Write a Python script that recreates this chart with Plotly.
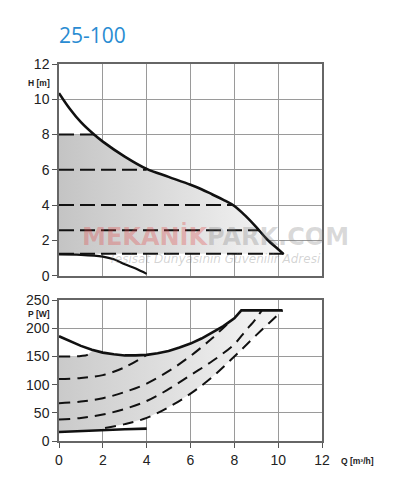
import plotly.graph_objects as go

# ---------------- H-Q (head) chart data ----------------
q_hmax = [0, 0.5, 1, 1.6, 2, 3, 4, 5, 6, 6.5, 7, 7.5, 8, 8.5, 9, 9.5, 10, 10.25]
h_max = [10.35, 9.45, 8.7, 8.0, 7.6, 6.75, 6.05, 5.6, 5.15, 4.9, 4.6, 4.3, 3.95, 3.4, 2.75, 2.05, 1.5, 1.22]
q_hmin = [0, 1, 2, 2.5, 3, 3.5, 4]
h_min = [1.2, 1.18, 1.08, 0.93, 0.65, 0.4, 0.1]
h_const = [8.0, 6.0, 4.0, 2.57, 1.24]
q_const_end = [1.6, 4.0, 7.96, 9.13, 10.25]

# ---------------- P-Q (power) chart data ----------------
q_pmax = [0, 0.5, 1, 1.5, 2, 2.5, 3, 3.5, 4, 4.5, 5, 5.5, 6, 6.5, 7, 7.5, 8, 8.32, 10.2]
p_max = [186, 177, 169, 162, 157, 154, 152, 152, 153, 156, 160, 166, 173, 182, 193, 204, 218, 232, 232]
q_p8 = [0, 1, 1.3, 1.55]
p_p8 = [150, 151, 153, 161]
q_p6 = [0, 1, 2, 3, 4]
p_p6 = [110, 112, 117, 131, 153]
q_p4 = [0, 1, 2, 3, 4, 5, 6, 7, 7.9]
p_p4 = [67, 70, 76, 87, 102, 124, 151, 183, 216]
q_p25 = [0, 1, 2, 3, 4, 5, 6, 7, 8, 8.5, 9, 9.25]
p_p25 = [38, 41, 47, 57, 71, 92, 117, 142, 172, 195, 218, 232]
q_p12 = [2.1, 3, 4, 5, 6, 7, 8, 9, 10.2]
p_p12 = [23, 30, 41, 60, 84, 114, 150, 188, 232]
q_pmin = [0, 1, 2, 3, 4]
p_pmin = [16, 18, 20, 21, 22]

x_ticks = [0, 2, 4, 6, 8, 10, 12]
h_ticks = [0, 2, 4, 6, 8, 10, 12]
p_ticks = [0, 50, 100, 150, 200, 250]

fig = go.Figure()

# ----- top chart fill -----
fx = [0.0] + [q for q in q_hmax if q >= q_const_end[0]] + [q_const_end[-1], 0.0]
fy = [h_const[0]] + [h for q, h in zip(q_hmax, h_max) if q >= q_const_end[0]] + [h_const[-1], h_const[-1]]
fig.add_trace(go.Scatter(x=fx, y=fy, fill="toself", mode="none",
                         fillgradient=dict(type="horizontal",
                                           colorscale=[[0, "#c4c4c4"], [1, "#f6f6f6"]]),
                         xaxis="x", yaxis="y", hoverinfo="skip", showlegend=False))

# constant pressure dashed lines
for h, qe in zip(h_const, q_const_end):
    fig.add_trace(go.Scatter(x=[0, qe], y=[h, h], mode="lines",
                             line=dict(color="#111", width=2, dash="15px,6px"),
                             xaxis="x", yaxis="y", showlegend=False))
fig.add_trace(go.Scatter(x=q_hmax, y=h_max, mode="lines", line=dict(color="#111", width=2.6, shape="spline"),
                         xaxis="x", yaxis="y", showlegend=False))
fig.add_trace(go.Scatter(x=q_hmin, y=h_min, mode="lines", line=dict(color="#111", width=2.2, shape="spline"),
                         xaxis="x", yaxis="y", showlegend=False))

# ----- bottom chart fill -----
bx = list(q_p8) + [q for q in q_pmax if q > q_p8[-1]] + list(reversed(q_p12)) + \
     [q for q in reversed(q_pmin) if q < q_p12[0]]
by = list(p_p8) + [p for q, p in zip(q_pmax, p_max) if q > q_p8[-1]] + list(reversed(p_p12)) + \
     [p for q, p in zip(reversed(q_pmin), reversed(p_pmin)) if q < q_p12[0]]
fig.add_trace(go.Scatter(x=bx, y=by, fill="toself", mode="none",
                         fillgradient=dict(type="horizontal",
                                           colorscale=[[0, "#cacaca"], [1, "#f6f6f6"]]),
                         xaxis="x2", yaxis="y2", hoverinfo="skip", showlegend=False))

for qs, ps in [(q_p8, p_p8), (q_p6, p_p6), (q_p4, p_p4), (q_p25, p_p25), (q_p12, p_p12)]:
    fig.add_trace(go.Scatter(x=qs, y=ps, mode="lines",
                             line=dict(color="#111", width=2, dash="11px,7px", shape="spline"),
                             xaxis="x2", yaxis="y2", showlegend=False))
fig.add_trace(go.Scatter(x=q_pmax, y=p_max, mode="lines", line=dict(color="#111", width=2.6),
                         xaxis="x2", yaxis="y2", showlegend=False))
fig.add_trace(go.Scatter(x=q_pmin, y=p_pmin, mode="lines", line=dict(color="#111", width=2.6),
                         xaxis="x2", yaxis="y2", showlegend=False))

axis_common = dict(showgrid=True, gridcolor="#9a9a9a", gridwidth=1, showline=True, mirror=True,
                   linecolor="#666", linewidth=1.5, zeroline=False,
                   tickfont=dict(family="Liberation Sans, Arial", size=14, color="#222"))

# pixel helpers for annotation placement
L, R, T, B = 59, 322, 64, 447
def px(x):
    return (x - L) / (R - L)
def py(y):
    return (B - y) / (B - T)

fig.update_layout(
    width=398, height=480, margin=dict(l=L, r=398 - R, t=T, b=480 - B),
    paper_bgcolor="white", plot_bgcolor="white", showlegend=False,
    xaxis=dict(domain=[0, 1], anchor="y", range=[0, 12], tickvals=x_ticks, showticklabels=False,
               ticks="", **axis_common),
    yaxis=dict(domain=[py(279), 1], anchor="x", range=[0, 12], tickvals=h_ticks, ticks="outside",
               ticklen=5, tickcolor="#555", **axis_common),
    xaxis2=dict(domain=[0, 1], anchor="y2", range=[0, 12], tickvals=x_ticks, ticks="outside",
                ticklen=5, tickcolor="#555", **axis_common),
    yaxis2=dict(domain=[0, py(304)], anchor="x2", range=[0, 250], tickvals=p_ticks, ticks="outside",
                ticklen=5, tickcolor="#555", **axis_common),
)

ann = [
    dict(text="25-100", x=px(57), y=py(35), xanchor="left", yanchor="middle",
         font=dict(family="Open Sans, Lato, sans-serif", size=21, color="#2a8cd2")),
    dict(text="<b>H [m]</b>", x=px(38.5), y=py(83), xanchor="center", yanchor="middle",
         font=dict(family="Liberation Sans, Arial", size=8.5, color="#222")),
    dict(text="<b>P [W]</b>", x=px(38.5), y=py(318), xanchor="center", yanchor="middle",
         font=dict(family="Liberation Sans, Arial", size=8.5, color="#222")),
    dict(text="<b>Q [m³/h]</b>", x=px(339), y=py(467.5), xanchor="left", yanchor="middle",
         font=dict(family="Liberation Sans, Arial", size=8.5, color="#222")),
    dict(text="<b><span style='color:rgba(225,70,70,0.32)'>MEKANİK</span>"
              "<span style='color:rgba(120,120,120,0.28)'>PARK.COM</span></b>",
         x=px(215), y=py(239), xanchor="center", yanchor="middle",
         font=dict(family="DejaVu Sans", size=24)),
    dict(text="<i>Tesisat Dünyasının Güvenilir Adresi</i>", x=px(215), y=py(262),
         xanchor="center", yanchor="middle",
         font=dict(family="DejaVu Sans", size=12, color="rgba(120,120,120,0.32)")),
]
for a in ann:
    fig.add_annotation(xref="paper", yref="paper", showarrow=False, **a)

fig.write_html("out.html")
